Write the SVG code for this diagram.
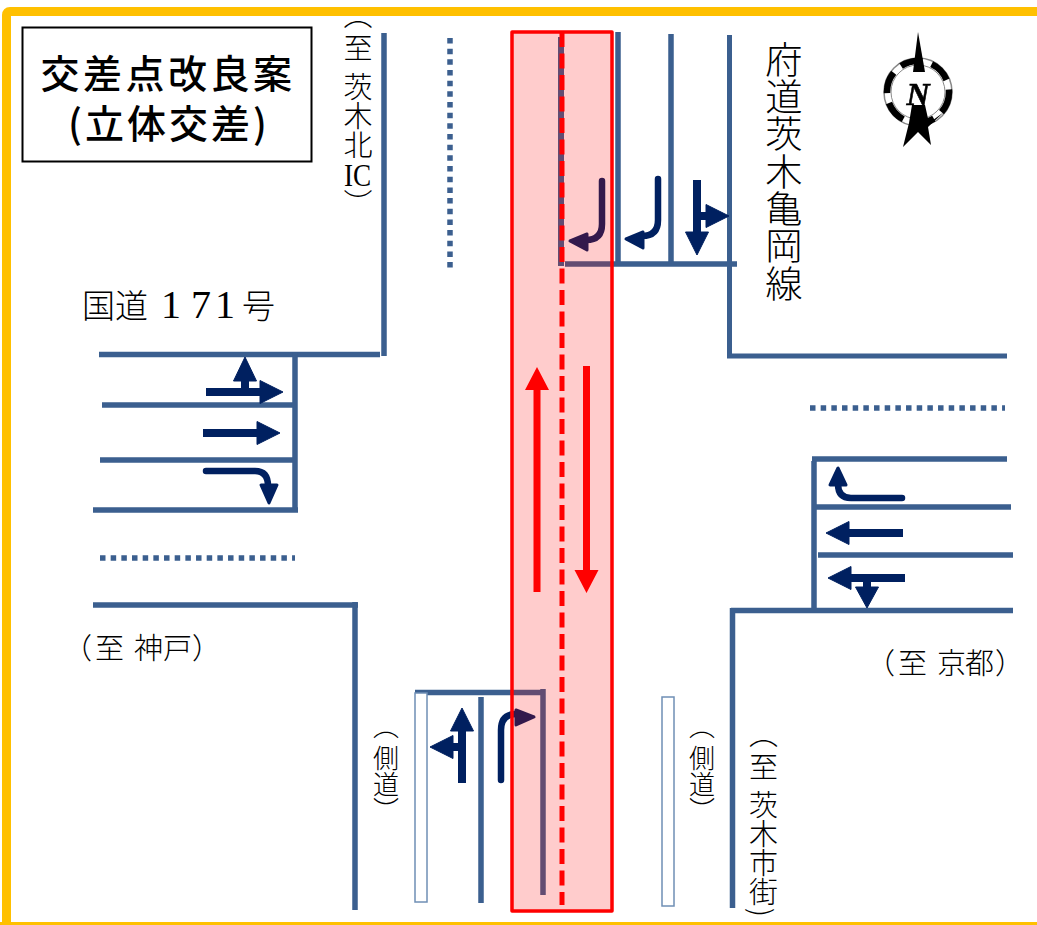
<svg xmlns="http://www.w3.org/2000/svg" width="1037" height="925" viewBox="0 0 1037 925">
<defs><filter id="soft" x="-10%" y="-10%" width="120%" height="120%"><feGaussianBlur stdDeviation="0.6"/></filter></defs>
<style>
.frame{fill:none;stroke:#ffc000;stroke-width:9}
.road{fill:none;stroke:#3b5f8f;stroke-width:5.5}
.dot{fill:none;stroke:#3b5f8f;stroke-width:5.5;stroke-dasharray:5.5 5.17}
.side{fill:#fff;stroke:#6f8fb5;stroke-width:1.5}
.shaft{fill:none;stroke:#002060;stroke-width:8}
.turn{fill:none;stroke:#002060;stroke-width:6.5;stroke-linecap:round}
.head{fill:#002060;stroke:#002060;stroke-width:1;stroke-linejoin:round}
.thead{fill:#002060;stroke:#002060;stroke-width:3;stroke-linejoin:round}
.viaduct{fill:#f00;fill-opacity:.2;stroke:#f00;stroke-width:3.5;stroke-linejoin:round}
.center{fill:none;stroke:#f00;stroke-width:5;stroke-dasharray:15 6.5}
.redshaft{fill:none;stroke:#f00;stroke-width:7}
.redhead{fill:#f00}
text{font-family:"Noto Sans CJK JP","Noto Sans",sans-serif;fill:#000;font-weight:300}
.v{writing-mode:vertical-rl}
.serif{font-family:"Liberation Serif",serif;font-weight:400}
.ttl{font-weight:500}
</style>
<rect width="1037" height="925" fill="#fff"/>
<path class="frame" d="M1037 11.500H10Q6.500 11.500 6.500 15V925"/>
<path d="M0 923.500H1037" stroke="#ffc000" stroke-width="3"/>
<g id="title">
<rect x="22.500" y="27.500" width="289" height="134" fill="#fff" stroke="#000" stroke-width="2"/>
<text class="ttl" x="168" y="88" font-size="39" letter-spacing="3.500" text-anchor="middle">交差点改良案</text>
<text class="ttl" x="169" y="138" font-size="39" letter-spacing="3" text-anchor="middle">(立体交差)</text>
</g>
<g id="connectors">
<path class="road" d="M99 354.500H380M384 33V356"/>
<path class="road" d="M295 352V512M102 405H295M100 460H295M93 510H298"/>
<path class="dot" d="M100 558H295"/>
<path class="road" d="M93 605H358M355 602V910"/>
<path class="dot" d="M450 38V268"/>
<path class="road" d="M561 37V266" style="stroke-width:6"/>
<path class="road" d="M565 264H737M618 32V264M671 34V264"/>
<path class="road" d="M729.500 35V358M727 356H1007" style="stroke-width:5"/>
<path class="dot" d="M810 408H1005"/>
<path class="road" d="M812 459H1007M814 461V612M814 507H1011M818 555H1013M731 610.500H1013M732.500 608V908"/>
<path class="road" d="M415 692.500H545M543 689V895M481 697V903"/>
<rect class="side" x="415" y="693" width="12" height="209"/>
<rect class="side" x="662" y="697" width="12" height="209"/>
</g>
<g id="arrows-west">
<path class="shaft" d="M245 378V390M206 392H262"/>
<path class="head" d="M245 357L256.500 381H233.500ZM283 392L260 380.500V403.500Z"/>
<path class="shaft" d="M203 433H259"/>
<path class="head" d="M280 433L257 421.500V444.500Z"/>
<path class="turn" d="M206 471H255Q268 471 268 486"/>
<path class="thead" d="M269 503L261 485H277Z"/>
</g>
<g id="arrows-east">
<path class="turn" d="M902 498H851Q838 498 838 484"/>
<path class="thead" d="M838 468L830 485H846Z"/>
<path class="shaft" d="M903 533H847"/>
<path class="head" d="M826 533L849 521.500V544.500Z"/>
<path class="shaft" d="M905 578H848M867 578V590"/>
<path class="head" d="M828 578L851 566.500V589.500ZM867 608L855.500 587H878.500Z"/>
</g>
<g id="arrows-north">
<path class="turn" d="M602 181V224Q602 240 586 240"/>
<path class="thead" d="M570 241L587 234V250Z"/>
<path class="turn" d="M658 179V220Q658 236 642 236"/>
<path class="thead" d="M626 239L643 232V248Z"/>
<path class="shaft" d="M697 180V234M697 216H708"/>
<path class="head" d="M697 255L685.500 232H708.500ZM729 216L706 204.500V227.500Z"/>
</g>
<g id="arrows-south">
<path class="shaft" d="M462 783V729M462 747H451"/>
<path class="head" d="M462 708L450.500 731H473.500ZM430 747L453 735.500V758.500Z"/>
<path class="turn" d="M501 780V730Q501 714 516 714"/>
<path class="thead" d="M534 717L516 710V725Z"/>
</g>
<g id="viaduct">
<rect class="viaduct" x="512" y="32" width="100" height="879"/>
<path class="center" d="M562 32V905"/>
<path class="redshaft" d="M537 592V388M586.500 366V571"/>
<path class="redhead" d="M537 367L525 390H549ZM586.500 593L574.500 570H598.500Z"/>
</g>
<g id="compass" filter="url(#soft)">
<circle cx="918" cy="92" r="34" fill="none" stroke="#888" stroke-width="1.500"/>
<circle cx="918" cy="92" r="27" fill="none" stroke="#888" stroke-width="1"/>
<circle cx="918" cy="92" r="31" fill="none" stroke="#000" stroke-width="6.500" stroke-dasharray="22 10"/>
<path fill="#000" d="M918 32L925 72H913Z"/>
<path fill="#000" d="M912 105H925L929 123L944 112L928 127L931 145L918 132L903 147L909 123Z"/>
<text class="serif" x="918" y="105" font-size="32" font-style="italic" text-anchor="middle" stroke="#000" stroke-width=".6" style="font-weight:700">N</text>
</g>
<g id="labels">
<text class="v" x="358" y="0" font-size="29">（</text>
<text class="v" x="358" y="33" font-size="29">至</text>
<text class="v" x="358" y="72" font-size="29">茨木北</text>
<text class="serif" transform="translate(357.500 186) scale(.85 1)" font-size="32" text-anchor="middle">IC</text>
<text class="v" x="358" y="189" font-size="29">）</text>
<text x="82" y="318" font-size="33">国道</text>
<text class="serif" x="161 191 215" y="318" font-size="40">171</text>
<text x="242" y="318" font-size="33">号</text>
<text class="v" x="784" y="41" font-size="37.300">府道茨木亀岡線</text>
<text x="63 95 124 134 163 192" y="659" font-size="29">（至 神戸）</text>
<text x="866 898 927 937 965 995" y="673.500" font-size="29">（至 京都）</text>
<text class="v" x="386" y="713" font-size="26">（</text>
<text class="v" x="386" y="745" font-size="26">側道）</text>
<text class="v" x="702" y="713" font-size="26">（</text>
<text class="v" x="702" y="745" font-size="26">側道）</text>
<text class="v" x="763.500" y="719" font-size="29">（</text>
<text class="v" x="763.500" y="752" font-size="29">至</text>
<text class="v" x="763.500" y="790.500" font-size="29">茨木市街</text>
<text class="v" x="763.500" y="908" font-size="29">)</text>
</g>
</svg>
